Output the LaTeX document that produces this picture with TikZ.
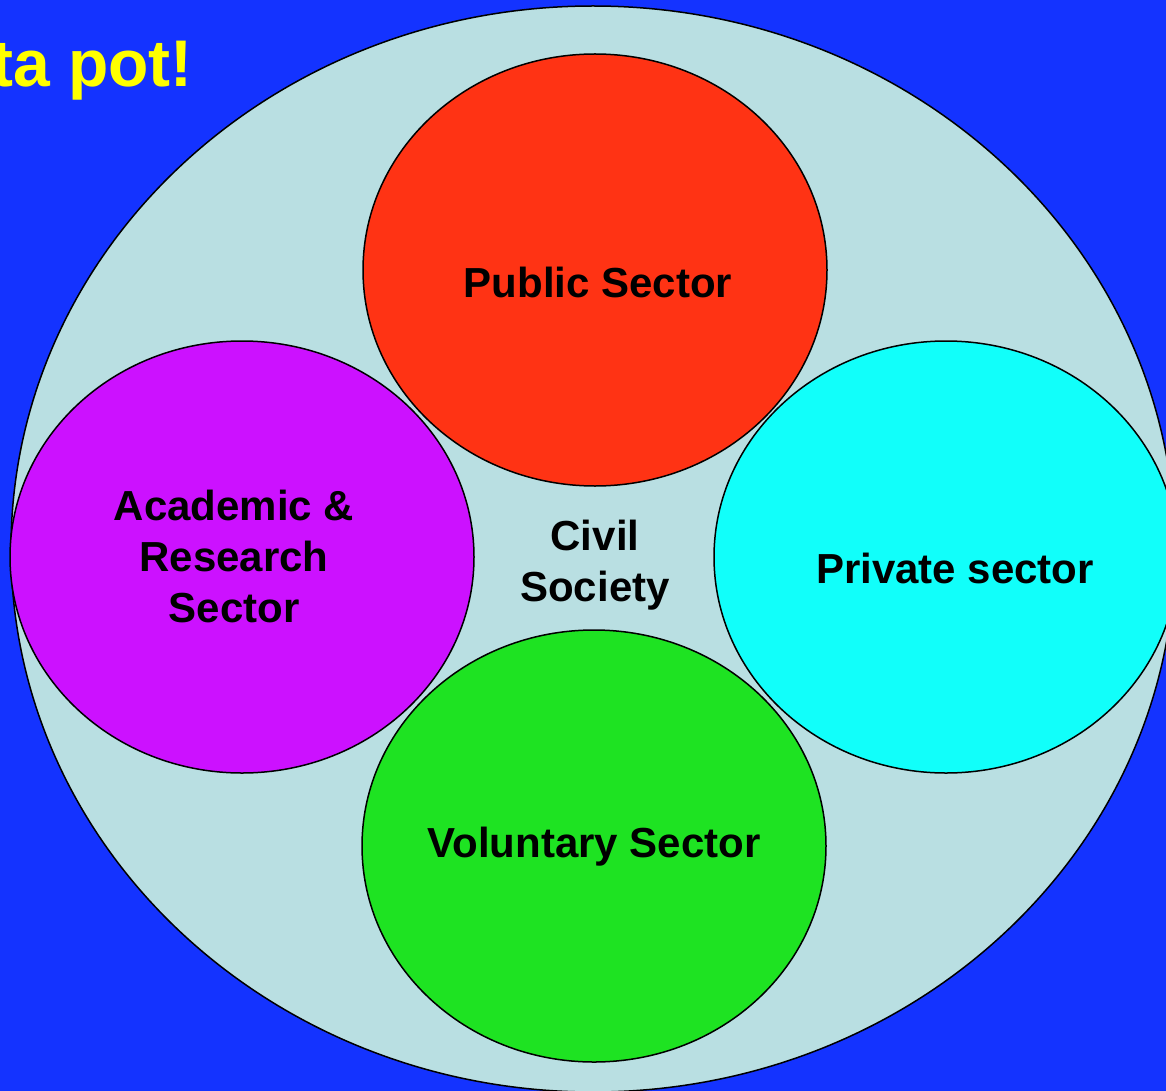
\documentclass[tikz,border=0pt]{standalone}
\usepackage{fontspec}
\setmainfont{Liberation Sans}
\usetikzlibrary{shapes.geometric}
\definecolor{bgblue}{RGB}{20,51,255}
\definecolor{civil}{RGB}{185,223,226}
\definecolor{pubred}{RGB}{255,51,20}
\definecolor{acamag}{RGB}{204,17,255}
\definecolor{privcyan}{RGB}{17,255,250}
\definecolor{volgreen}{RGB}{30,227,34}
\definecolor{titleyellow}{RGB}{255,255,0}
\tikzset{
  sector/.style={ellipse, draw=black, line width=1.5pt, minimum width=464pt, minimum height=432pt, inner sep=0pt},
  lbl/.style={font=\bfseries\fontsize{42}{51}\selectfont, text=black, align=center, anchor=base}
}
\begin{document}
\begin{tikzpicture}[x=1pt,y=-1pt]
\useasboundingbox (0,0) rectangle (1166,1091);
\clip (0,0) rectangle (1166,1091);
\fill[bgblue] (0,0) rectangle (1166,1091);
\node[ellipse, draw=black, line width=1.5pt, fill=civil, minimum width=1164pt, minimum height=1086pt, inner sep=0pt] (civ) at (593,549) {};
\node[sector, fill=pubred] (pub) at (595,270) {};
\node[sector, fill=acamag] (aca) at (242,557) {};
\node[sector, fill=privcyan] (priv) at (946,557) {};
\node[sector, fill=volgreen] (vol) at (594,846) {};
\node[lbl] (publbl) at (598,297) {Public Sector};
\node[lbl] (acalbl) at (234,622) {Academic \&\\Research\\Sector};
\node[lbl] (civlbl) at (595,601) {Civil\\Society};
\node[lbl] (privlbl) at (955,583) {Private sector};
\node[lbl] (vollbl) at (594,857) {Voluntary Sector};
\node[font=\bfseries\fontsize{66}{70}\selectfont, text=titleyellow, anchor=base east, inner sep=0pt] (title) at (193,87) {ta pot!};
\end{tikzpicture}
\end{document}
